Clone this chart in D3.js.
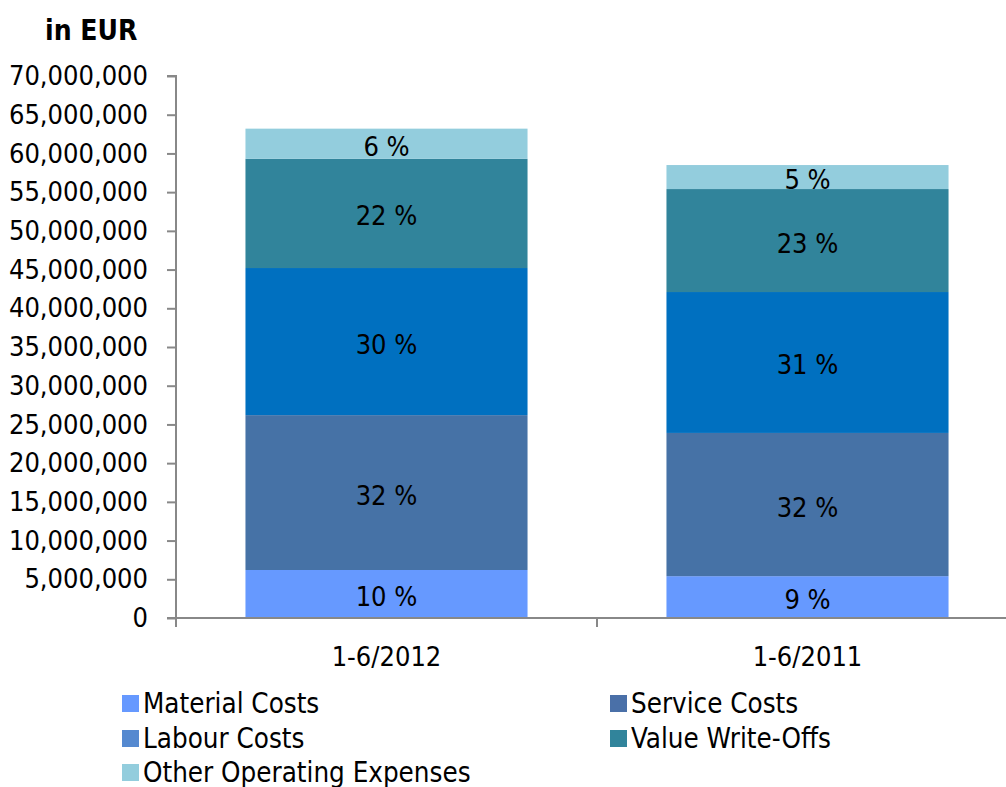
<!DOCTYPE html>
<html>
<head>
<meta charset="utf-8">
<script src="https://cdnjs.cloudflare.com/ajax/libs/d3/7.8.5/d3.min.js"></script>
<style>
  body { margin: 0; background: #fff; }
  svg text { font-family: "DejaVu Sans Condensed", "DejaVu Sans", sans-serif; font-stretch: condensed; fill: #000; }
</style>
</head>
<body>
<svg id="chart"></svg>
<script>
// data
var categories = ["1-6/2012", "1-6/2011"];
var seriesNames = ["Material Costs", "Service Costs", "Labour Costs", "Value Write-Offs", "Other Operating Expenses"];
var materialCosts = [6200000, 5400000];
var serviceCosts = [20000000, 18500000];
var labourCosts = [19000000, 18200000];
var valueWriteOffs = [14100000, 13300000];
var otherExpenses = [3900000, 3100000];
var pctLabels2012 = ["10 %", "32 %", "30 %", "22 %", "6 %"];
var pctLabels2011 = ["9 %", "32 %", "31 %", "23 %", "5 %"];
var yTicks = [0, 5000000, 10000000, 15000000, 20000000, 25000000, 30000000, 35000000,
              40000000, 45000000, 50000000, 55000000, 60000000, 65000000, 70000000];

var barColors = ["#6699ff", "#4672a6", "#0070c0", "#31849b", "#93cddd"];
var legendColors = ["#6699ff", "#4a70a8", "#5589d0", "#31849b", "#93cddd"];

var width = 1006, height = 787;
var margin = {top: 76, bottom: 169, left: 176, right: -12};

var svg = d3.select('#chart')
  .attr('width', width)
  .attr('height', height);

var values = [materialCosts, serviceCosts, labourCosts, valueWriteOffs, otherExpenses];
var rows = categories.map(function(c, i){
  var r = {cat: c};
  seriesNames.forEach(function(s, j){ r[s] = values[j][i]; });
  return r;
});
var labels = [pctLabels2012, pctLabels2011];

var stack = d3.stack().keys(seriesNames)(rows);

var xScale = d3.scaleBand()
  .domain(categories)
  .range([margin.left, width - margin.right])
  .paddingInner(0.33)
  .paddingOuter(0.165);

var yScale = d3.scaleLinear()
  .domain([0, 70000000])
  .range([height - margin.bottom, margin.top]);

// bars
var layers = svg.append('g').selectAll('g')
  .data(stack)
  .enter().append('g')
  .attr('fill', function(d, i){ return barColors[i]; });

layers.selectAll('rect')
  .data(function(d){ return d; })
  .enter().append('rect')
  .attr('x', function(d){ return xScale(d.data.cat); })
  .attr('width', xScale.bandwidth())
  .attr('y', function(d){ return yScale(d[1]); })
  .attr('height', function(d){ return yScale(d[0]) - yScale(d[1]); });

// percent labels
stack.forEach(function(layer, j){
  layer.forEach(function(d, i){
    svg.append('text')
      .attr('x', xScale(d.data.cat) + xScale.bandwidth() / 2)
      .attr('y', (yScale(d[0]) + yScale(d[1])) / 2 + 12)
      .attr('text-anchor', 'middle')
      .style('font-size', '27px')
      .text(labels[i][j]);
  });
});

// y axis
var yAxis = d3.axisLeft(yScale)
  .tickValues(yTicks)
  .tickSize(9)
  .tickPadding(19)
  .tickFormat(d3.format(','));

var y_axis = svg.append('g')
  .attr('transform', 'translate(' + margin.left + ',0)')
  .call(yAxis);
y_axis.select('.domain').attr('stroke', '#888').attr('stroke-width', 2)
  .attr('d', 'M-9,' + yScale(70000000) + 'H0V' + (yScale(0) + 9));
y_axis.selectAll('.tick line').attr('stroke', '#888').attr('stroke-width', 2);
y_axis.selectAll('.tick text')
  .style('font-size', '27px')
  .attr('fill', '#000');

// x axis
var step = xScale.step();
var base = yScale(0);
svg.append('line')
  .attr('x1', margin.left - 9).attr('x2', width)
  .attr('y1', base).attr('y2', base)
  .attr('stroke', '#888').attr('stroke-width', 2);
categories.forEach(function(c){
  var bx = xScale(c) + xScale.bandwidth() + step * xScale.paddingInner() / 2;
  svg.append('line')
    .attr('x1', bx).attr('x2', bx)
    .attr('y1', base).attr('y2', base + 9)
    .attr('stroke', '#888').attr('stroke-width', 2);
  svg.append('text')
    .attr('x', xScale(c) + xScale.bandwidth() / 2)
    .attr('y', base + 48)
    .attr('text-anchor', 'middle')
    .style('font-size', '27px')
    .text(c);
});

// unit title
svg.append('text')
  .attr('x', 45).attr('y', 40)
  .style('font-size', '28px')
  .style('font-weight', 'bold')
  .text('in EUR');

// legend
var legendPos = [[122, 695], [610, 695], [122, 730], [610, 730], [122, 764]];
var legend = svg.append('g').selectAll('g')
  .data(seriesNames)
  .enter().append('g')
  .attr('transform', function(d, i){ return 'translate(' + legendPos[i][0] + ',' + legendPos[i][1] + ')'; });
legend.append('rect')
  .attr('width', 17).attr('height', 17)
  .attr('fill', function(d, i){ return legendColors[i]; });
legend.append('text')
  .attr('x', 21).attr('y', 18)
  .style('font-size', '27.5px')
  .text(function(d){ return d; });
</script>
</body>
</html>
